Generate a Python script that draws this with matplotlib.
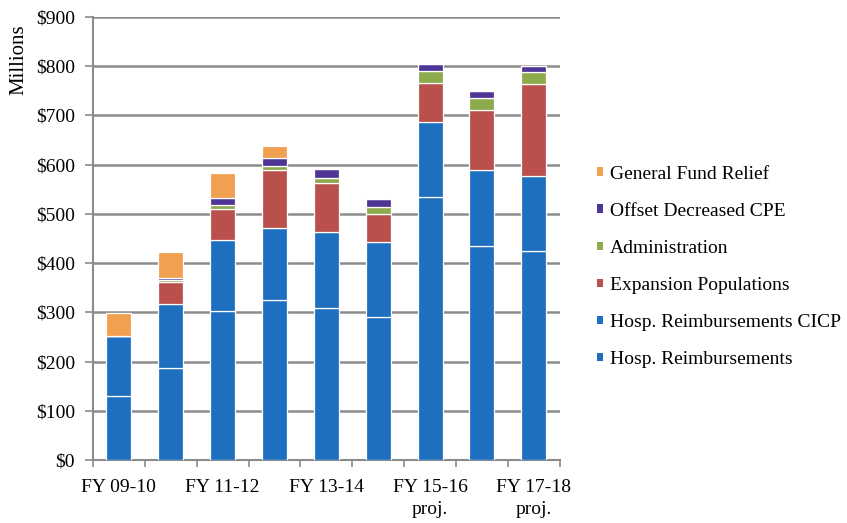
import matplotlib
matplotlib.use("Agg")
import matplotlib.pyplot as plt
from matplotlib.patches import Patch
import numpy as np

categories = ["FY 09-10", "FY 10-11", "FY 11-12", "FY 12-13", "FY 13-14",
              "FY 14-15", "FY 15-16\nproj.", "FY 16-17\nproj.", "FY 17-18\nproj."]
shown_labels = ["FY 09-10", "", "FY 11-12", "", "FY 13-14",
                "", "FY 15-16\nproj.", "", "FY 17-18\nproj."]

hosp_reimb = [130, 187, 303, 325, 309, 290, 535, 435, 425]
hosp_reimb_cicp = [122, 130, 144, 147, 154, 153, 152, 154, 152]
expansion_pop = [0, 45, 62, 117, 100, 56, 78, 122, 186]
administration = [0, 3, 9, 8, 10, 15, 25, 24, 25]
offset_cpe = [0, 5, 14, 16, 18, 16, 15, 15, 12]
general_fund_relief = [46, 53, 51, 25, 0, 0, 0, 0, 0]

series = [
    ("Hosp. Reimbursements", hosp_reimb, "#1F6FC0"),
    ("Hosp. Reimbursements CICP", hosp_reimb_cicp, "#1F6FC0"),
    ("Expansion Populations", expansion_pop, "#B9504C"),
    ("Administration", administration, "#8DAA4C"),
    ("Offset Decreased CPE", offset_cpe, "#4F3596"),
    ("General Fund Relief", general_fund_relief, "#F0A04E"),
]

plt.rcParams["font.family"] = ["Liberation Serif", "DejaVu Serif"]

fig = plt.figure(figsize=(8.47, 5.23), dpi=100)
ax = fig.add_axes([0.1098, 0.1205, 0.551, 0.847])

x = np.arange(len(categories))
bottom = np.zeros(len(categories))
for name, vals, color in series:
    vals = np.array(vals, dtype=float)
    ax.bar(x, vals, width=0.48, bottom=bottom, color=color,
           edgecolor="white", linewidth=0.9, zorder=3)
    bottom += vals

ax.set_xlim(-0.5, len(categories) - 0.5)
ax.set_ylim(0, 900)
yt = np.arange(0, 901, 100)
ax.set_yticks(yt)
ax.set_yticklabels([f"${v}" for v in yt], fontsize=14)
ax.yaxis.grid(True, color="#8C8C8C", linewidth=1.8, zorder=0)
ax.set_axisbelow(True)

# tick marks between categories, labels centred under bars
ax.set_xticks(np.arange(-0.5, len(categories), 1.0))
ax.set_xticklabels([])
ax.set_xticks(x, minor=True)
ax.set_xticklabels(shown_labels, minor=True, fontsize=14, linespacing=1.35)
ax.tick_params(axis="x", which="minor", length=0, pad=14)
ax.tick_params(axis="x", which="major", length=5, color="#8C8C8C", width=1.2)
ax.tick_params(axis="y", length=6, color="#8C8C8C", width=1.2, pad=7)

for side in ["top", "right"]:
    ax.spines[side].set_visible(False)
for side in ["left", "bottom"]:
    ax.spines[side].set_color("#8C8C8C")
    ax.spines[side].set_linewidth(1.5)

fig.text(0.0224, 0.885, "Millions", rotation=90, fontsize=15,
         ha="center", va="center")

handles = [Patch(facecolor=c, edgecolor="none", label=n)
           for n, _, c in reversed(series)]
fig.legend(handles=handles, loc="upper left", bbox_to_anchor=(0.6955, 0.698),
           frameon=False, fontsize=14, handlelength=0.3, handleheight=0.3,
           handletextpad=0.36, labelspacing=1.03, borderaxespad=0)

fig.savefig("out.png", dpi=100)
